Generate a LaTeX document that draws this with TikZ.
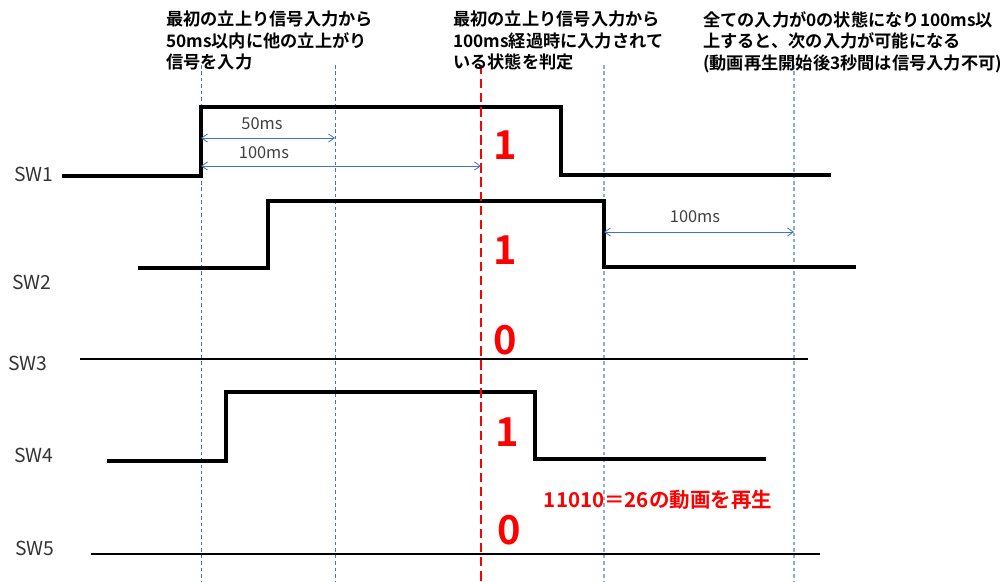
\documentclass[tikz,border=0pt]{standalone}
\usepackage{fontspec}
\setmainfont{Noto Sans CJK JP}[BoldFont={Noto Sans CJK JP Bold}]
\usetikzlibrary{arrows.meta}
\definecolor{msblue}{HTML}{4472C4}
\definecolor{msltblue}{HTML}{8FAADC}
\begin{document}
\begin{tikzpicture}[x=0.03cm,y=-0.03cm,line join=miter,>={Straight Barb[length=5pt,width=7pt]},
  sig/.style={line width=2.6pt},
  flat/.style={line width=1.7pt},
  guide/.style={msblue,line width=0.7pt,dash pattern=on 3pt off 2.5pt},
  guidelt/.style={msltblue,line width=1pt,dash pattern=on 3pt off 2.5pt},
  judge/.style={red,line width=2.1pt,dash pattern=on 8pt off 4pt},
  dim/.style={<->,msblue,line width=0.7pt},
  dimlabel/.style={text=black!75,font=\fontsize{14}{16}\selectfont},
  swlabel/.style={text=black!80,font=\fontsize{16.5}{19}\selectfont},
  bit/.style={text=red,font=\bfseries\fontsize{34}{38}\selectfont},
  note/.style={anchor=north west,align=left,inner sep=0pt,font=\bfseries\fontsize{14.7}{18.3}\selectfont}]
\useasboundingbox (0,0) rectangle (1004,581);

% guide lines
\draw[guide](201,65)--(201,581);
\draw[guide](335,65)--(335,581);
\draw[guidelt](604,65)--(604,581);
\draw[guidelt](794,65)--(794,581);

% signals
\draw[sig](62,176)--(201,176)--(201,107)--(561,107)--(561,175)--(831,175);
\draw[sig](138,268)--(268,268)--(268,201)--(604,201)--(604,267)--(856,267);
\draw[flat](80,359)--(808,359);
\draw[sig](107,461)--(226,461)--(226,392)--(535,392)--(535,459)--(766,459);
\draw[flat](91,554)--(820,554);

% judge timing
\draw[judge](481,65)--(481,581);

% dimensions
\coordinate (s1) at (201,138);
\coordinate (e50) at (335,138);
\coordinate (s2) at (201,166);
\coordinate (e100) at (481,166);
\coordinate (s3) at (604,232);
\coordinate (e3) at (794,232);
\draw[dim](s1)--(e50);
\draw[dim](s2)--(e100);
\draw[dim](s3)--(e3);
\node[dimlabel] (ms50) at (262,124) {50ms};
\node[dimlabel] (ms100a) at (264,153) {100ms};
\node[dimlabel] (ms100b) at (695,217) {100ms};

% labels
\node[swlabel] (sw1) at (34,174) {SW1};
\node[swlabel] (sw2) at (32,282) {SW2};
\node[swlabel] (sw3) at (28,363) {SW3};
\node[swlabel] (sw4) at (34,455) {SW4};
\node[swlabel] (sw5) at (35,548) {SW5};

\node[bit] (b1) at (505,145) {1};
\node[bit] (b2) at (505,250) {1};
\node[bit] (b3) at (505,340) {0};
\node[bit] (b4) at (507,432) {1};
\node[bit] (b5) at (509,530) {0};
\node[text=red,font=\bfseries\fontsize{17.5}{20}\selectfont] (result) at (658,500) {11010＝26の動画を再生};

\node[note] (n1) at (166,11) {最初の立上り信号入力から\\50ms以内に他の立上がり\\信号を入力};
\node[note] (n2) at (453,11) {最初の立上り信号入力から\\100ms経過時に入力されて\\いる状態を判定};
\node[note] (n3) at (703,11) {全ての入力が0の状態になり100ms以\\上すると、次の入力が可能になる\\(動画再生開始後3秒間は信号入力不可)};
\end{tikzpicture}
\end{document}
